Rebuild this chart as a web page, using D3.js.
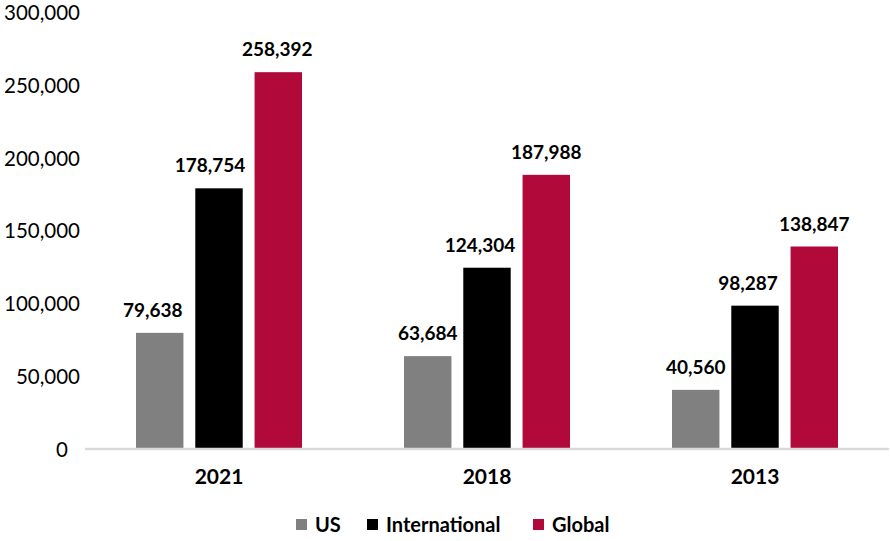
<!DOCTYPE html>
<html><head><meta charset="utf-8">
<script src="https://cdn.jsdelivr.net/npm/d3@7"></script>
<style>body{margin:0;background:#fff;} svg{display:block;font-family:Lato, "Open Sans", sans-serif;}</style>
</head><body>
<svg id="c" width="890" height="541"></svg>
<script>
const categories = ["2021", "2018", "2013"];
const seriesNames = ["US", "International", "Global"];
const usValues = [79638, 63684, 40560];
const intlValues = [178754, 124304, 98287];
const globalValues = [258392, 187988, 138847];
const yTicks = [0, 50000, 100000, 150000, 200000, 250000, 300000];
const colors = ["#808080", "#000000", "#b10a3a"];

const seriesValues = [usValues, intlValues, globalValues];
// manual horizontal nudges of data labels as in the reference (px), [category][series]
const labelNudge = [[-7, -9, -1], [0, -7, 0], [0, -7, 0]];
const svg = d3.select("#c");
const x = d3.scaleBand().domain(categories).range([85, 889]);
const xi = d3.scaleBand().domain(seriesNames).range([51, 217]).paddingInner(0.2).paddingOuter(0);
const y = d3.scaleLinear().domain([0, 300000]).range([449, 11.5]);
const fmt = d3.format(",");

// y tick labels
svg.append("g").selectAll("text").data(yTicks).join("text")
  .attr("x", d => d === 0 ? 68 : 80).attr("y", d => y(d) + 1).attr("dy", "0.35em")
  .attr("text-anchor", "end").attr("font-size", 20.5).attr("fill", "#000")
  .text(d => fmt(d));

// bars
const groups = svg.append("g").selectAll("g").data(categories).join("g")
  .attr("transform", d => `translate(${x(d)},0)`);
groups.each(function(cat, ci) {
  const g = d3.select(this);
  seriesNames.forEach((s, si) => {
    const v = seriesValues[si][ci];
    g.append("rect").attr("x", xi(s)).attr("width", xi.bandwidth())
      .attr("y", y(v)).attr("height", y(0) - y(v)).attr("fill", colors[si]);
    g.append("text").attr("x", xi(s) + xi.bandwidth() / 2 + labelNudge[ci][si]).attr("y", y(v) - 16)
      .attr("text-anchor", "middle").attr("font-size", 19).attr("font-weight", "bold")
      .text(fmt(v));
  });
});

// x axis line
svg.append("line").attr("x1", 85).attr("x2", 889).attr("y1", 449).attr("y2", 449)
  .attr("stroke", "#d9d9d9").attr("stroke-width", 2.5);

// category labels
svg.append("g").selectAll("text").data(categories).join("text")
  .attr("x", d => x(d) + x.bandwidth() / 2).attr("y", 484)
  .attr("text-anchor", "middle").attr("font-size", 21).attr("font-weight", "bold")
  .text(d => d);

// legend
const legendX = [296, 367, 533];
const lg = svg.append("g").selectAll("g").data(seriesNames).join("g")
  .attr("transform", (d, i) => `translate(${legendX[i]},519)`);
lg.append("rect").attr("width", 11).attr("height", 11).attr("fill", (d, i) => colors[i]);
lg.append("text").attr("x", 19).attr("y", 5.5).attr("dy", "0.36em")
  .attr("font-size", 20).attr("font-weight", "bold").text(d => d);
</script>
</body></html>
